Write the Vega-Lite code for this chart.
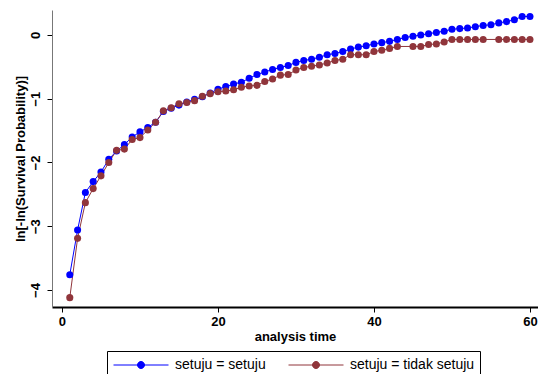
{
  "$schema": "https://vega.github.io/schema/vega-lite/v6.json",
  "autosize": {"type": "none"},
  "width": 486,
  "height": 297,
  "padding": {"left": 52, "top": 10, "right": 0, "bottom": 67},
  "background": "white",
  "config": {
    "view": {"stroke": null},
    "font": "Liberation Sans",
    "axis": {"grid": false, "labelFont": "Liberation Sans", "titleFont": "Liberation Sans", "labelFontWeight": "bold", "titleFontWeight": "bold", "labelFontSize": 13, "titleFontSize": 13, "labelColor": "black", "titleColor": "black", "tickColor": "black", "tickSize": 5, "tickWidth": 1}
  },
  "data": {
    "values": [
      {"t": 1, "v": -3.76, "g": "setuju = setuju"},
      {"t": 2, "v": -3.06, "g": "setuju = setuju"},
      {"t": 3, "v": -2.47, "g": "setuju = setuju"},
      {"t": 4, "v": -2.30, "g": "setuju = setuju"},
      {"t": 5, "v": -2.15, "g": "setuju = setuju"},
      {"t": 6, "v": -1.95, "g": "setuju = setuju"},
      {"t": 7, "v": -1.82, "g": "setuju = setuju"},
      {"t": 8, "v": -1.72, "g": "setuju = setuju"},
      {"t": 9, "v": -1.60, "g": "setuju = setuju"},
      {"t": 10, "v": -1.52, "g": "setuju = setuju"},
      {"t": 11, "v": -1.45, "g": "setuju = setuju"},
      {"t": 12, "v": -1.37, "g": "setuju = setuju"},
      {"t": 13, "v": -1.20, "g": "setuju = setuju"},
      {"t": 14, "v": -1.15, "g": "setuju = setuju"},
      {"t": 15, "v": -1.10, "g": "setuju = setuju"},
      {"t": 16, "v": -1.05, "g": "setuju = setuju"},
      {"t": 17, "v": -1.01, "g": "setuju = setuju"},
      {"t": 18, "v": -0.97, "g": "setuju = setuju"},
      {"t": 19, "v": -0.91, "g": "setuju = setuju"},
      {"t": 20, "v": -0.85, "g": "setuju = setuju"},
      {"t": 21, "v": -0.81, "g": "setuju = setuju"},
      {"t": 22, "v": -0.77, "g": "setuju = setuju"},
      {"t": 23, "v": -0.74, "g": "setuju = setuju"},
      {"t": 24, "v": -0.68, "g": "setuju = setuju"},
      {"t": 25, "v": -0.62, "g": "setuju = setuju"},
      {"t": 26, "v": -0.58, "g": "setuju = setuju"},
      {"t": 27, "v": -0.54, "g": "setuju = setuju"},
      {"t": 28, "v": -0.51, "g": "setuju = setuju"},
      {"t": 29, "v": -0.48, "g": "setuju = setuju"},
      {"t": 30, "v": -0.43, "g": "setuju = setuju"},
      {"t": 31, "v": -0.40, "g": "setuju = setuju"},
      {"t": 32, "v": -0.38, "g": "setuju = setuju"},
      {"t": 33, "v": -0.35, "g": "setuju = setuju"},
      {"t": 34, "v": -0.31, "g": "setuju = setuju"},
      {"t": 35, "v": -0.29, "g": "setuju = setuju"},
      {"t": 36, "v": -0.26, "g": "setuju = setuju"},
      {"t": 37, "v": -0.22, "g": "setuju = setuju"},
      {"t": 38, "v": -0.19, "g": "setuju = setuju"},
      {"t": 39, "v": -0.17, "g": "setuju = setuju"},
      {"t": 40, "v": -0.14, "g": "setuju = setuju"},
      {"t": 41, "v": -0.12, "g": "setuju = setuju"},
      {"t": 42, "v": -0.10, "g": "setuju = setuju"},
      {"t": 43, "v": -0.07, "g": "setuju = setuju"},
      {"t": 44, "v": -0.04, "g": "setuju = setuju"},
      {"t": 45, "v": -0.02, "g": "setuju = setuju"},
      {"t": 46, "v": 0.00, "g": "setuju = setuju"},
      {"t": 47, "v": 0.02, "g": "setuju = setuju"},
      {"t": 48, "v": 0.04, "g": "setuju = setuju"},
      {"t": 49, "v": 0.06, "g": "setuju = setuju"},
      {"t": 50, "v": 0.09, "g": "setuju = setuju"},
      {"t": 51, "v": 0.10, "g": "setuju = setuju"},
      {"t": 52, "v": 0.11, "g": "setuju = setuju"},
      {"t": 53, "v": 0.13, "g": "setuju = setuju"},
      {"t": 54, "v": 0.15, "g": "setuju = setuju"},
      {"t": 55, "v": 0.16, "g": "setuju = setuju"},
      {"t": 56, "v": 0.19, "g": "setuju = setuju"},
      {"t": 57, "v": 0.21, "g": "setuju = setuju"},
      {"t": 58, "v": 0.24, "g": "setuju = setuju"},
      {"t": 59, "v": 0.29, "g": "setuju = setuju"},
      {"t": 60, "v": 0.29, "g": "setuju = setuju"},
      {"t": 1, "v": -4.12, "g": "setuju = tidak setuju"},
      {"t": 2, "v": -3.19, "g": "setuju = tidak setuju"},
      {"t": 3, "v": -2.63, "g": "setuju = tidak setuju"},
      {"t": 4, "v": -2.41, "g": "setuju = tidak setuju"},
      {"t": 5, "v": -2.21, "g": "setuju = tidak setuju"},
      {"t": 6, "v": -2.00, "g": "setuju = tidak setuju"},
      {"t": 7, "v": -1.81, "g": "setuju = tidak setuju"},
      {"t": 8, "v": -1.79, "g": "setuju = tidak setuju"},
      {"t": 9, "v": -1.64, "g": "setuju = tidak setuju"},
      {"t": 10, "v": -1.61, "g": "setuju = tidak setuju"},
      {"t": 11, "v": -1.49, "g": "setuju = tidak setuju"},
      {"t": 12, "v": -1.37, "g": "setuju = tidak setuju"},
      {"t": 13, "v": -1.19, "g": "setuju = tidak setuju"},
      {"t": 14, "v": -1.14, "g": "setuju = tidak setuju"},
      {"t": 15, "v": -1.08, "g": "setuju = tidak setuju"},
      {"t": 16, "v": -1.06, "g": "setuju = tidak setuju"},
      {"t": 17, "v": -1.03, "g": "setuju = tidak setuju"},
      {"t": 18, "v": -0.96, "g": "setuju = tidak setuju"},
      {"t": 19, "v": -0.92, "g": "setuju = tidak setuju"},
      {"t": 20, "v": -0.89, "g": "setuju = tidak setuju"},
      {"t": 21, "v": -0.88, "g": "setuju = tidak setuju"},
      {"t": 22, "v": -0.86, "g": "setuju = tidak setuju"},
      {"t": 23, "v": -0.82, "g": "setuju = tidak setuju"},
      {"t": 24, "v": -0.80, "g": "setuju = tidak setuju"},
      {"t": 25, "v": -0.79, "g": "setuju = tidak setuju"},
      {"t": 26, "v": -0.73, "g": "setuju = tidak setuju"},
      {"t": 27, "v": -0.69, "g": "setuju = tidak setuju"},
      {"t": 28, "v": -0.63, "g": "setuju = tidak setuju"},
      {"t": 29, "v": -0.62, "g": "setuju = tidak setuju"},
      {"t": 30, "v": -0.55, "g": "setuju = tidak setuju"},
      {"t": 31, "v": -0.51, "g": "setuju = tidak setuju"},
      {"t": 32, "v": -0.49, "g": "setuju = tidak setuju"},
      {"t": 33, "v": -0.47, "g": "setuju = tidak setuju"},
      {"t": 34, "v": -0.44, "g": "setuju = tidak setuju"},
      {"t": 35, "v": -0.40, "g": "setuju = tidak setuju"},
      {"t": 36, "v": -0.38, "g": "setuju = tidak setuju"},
      {"t": 37, "v": -0.31, "g": "setuju = tidak setuju"},
      {"t": 38, "v": -0.31, "g": "setuju = tidak setuju"},
      {"t": 39, "v": -0.31, "g": "setuju = tidak setuju"},
      {"t": 40, "v": -0.26, "g": "setuju = tidak setuju"},
      {"t": 41, "v": -0.24, "g": "setuju = tidak setuju"},
      {"t": 42, "v": -0.21, "g": "setuju = tidak setuju"},
      {"t": 43, "v": -0.18, "g": "setuju = tidak setuju"},
      {"t": 45, "v": -0.18, "g": "setuju = tidak setuju"},
      {"t": 46, "v": -0.18, "g": "setuju = tidak setuju"},
      {"t": 47, "v": -0.15, "g": "setuju = tidak setuju"},
      {"t": 48, "v": -0.14, "g": "setuju = tidak setuju"},
      {"t": 49, "v": -0.11, "g": "setuju = tidak setuju"},
      {"t": 50, "v": -0.07, "g": "setuju = tidak setuju"},
      {"t": 51, "v": -0.07, "g": "setuju = tidak setuju"},
      {"t": 52, "v": -0.07, "g": "setuju = tidak setuju"},
      {"t": 53, "v": -0.07, "g": "setuju = tidak setuju"},
      {"t": 54, "v": -0.07, "g": "setuju = tidak setuju"},
      {"t": 56, "v": -0.07, "g": "setuju = tidak setuju"},
      {"t": 57, "v": -0.07, "g": "setuju = tidak setuju"},
      {"t": 58, "v": -0.07, "g": "setuju = tidak setuju"},
      {"t": 59, "v": -0.07, "g": "setuju = tidak setuju"},
      {"t": 60, "v": -0.07, "g": "setuju = tidak setuju"}
    ]
  },
  "encoding": {
    "x": {"field": "t", "type": "quantitative", "scale": {"domain": [-1.28, 61.03], "nice": false, "zero": false},
      "axis": {"values": [0, 20, 40, 60], "title": "analysis time", "domainColor": "black", "domainWidth": 2, "labelPadding": 3, "titlePadding": 2, "labelFlush": false}},
    "y": {"field": "v", "type": "quantitative", "scale": {"domain": [-4.267, 0.392], "nice": false, "zero": false},
      "axis": {"values": [-4, -3, -2, -1, 0], "title": "ln[-ln(Survival Probability)]", "labelAngle": -90, "labelAlign": "center", "labelBaseline": "bottom", "labelPadding": 5, "titlePadding": 2, "domainColor": "#777777", "domainWidth": 1, "labelFlush": false}},
    "color": {"field": "g", "type": "nominal",
      "scale": {"domain": ["setuju = setuju", "setuju = tidak setuju"], "range": ["#0000ff", "#90353b"]},
      "legend": {"title": null, "orient": "none", "legendX": 55, "legendY": 341, "direction": "horizontal", "columns": 2,
        "strokeColor": "black", "fillColor": "white", "padding": 5, "clipHeight": 18,
        "labelFont": "Liberation Sans", "labelFontSize": 14, "labelColor": "black",
        "symbolType": "M-5.5,0H5.5M0.7,0A0.7,0.7,0,1,1,-0.7,0A0.7,0.7,0,1,1,0.7,0",
        "symbolSize": 100, "symbolStrokeWidth": 1, "symbolOffset": 22, "labelOffset": 27, "columnPadding": 21,
        "encode": {"symbols": {"update": {"fill": {"scale": "color", "field": "value"}, "stroke": {"scale": "color", "field": "value"}, "opacity": {"value": 1}}}}}}
  },
  "layer": [
    {"mark": {"type": "line", "strokeWidth": 1}},
    {"mark": {"type": "point", "filled": true, "shape": "circle", "size": 50, "opacity": 1}}
  ]
}
